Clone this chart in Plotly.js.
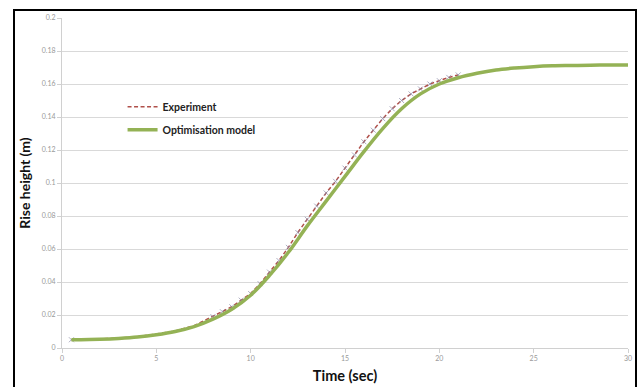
<!DOCTYPE html>
<html>
<head>
<meta charset="utf-8">
<script src="https://cdn.plot.ly/plotly-3.0.1.min.js"></script>
<style>
html,body{margin:0;padding:0;background:#fff;}
#wrap{position:relative;width:642px;height:387px;overflow:hidden;}
#chart{width:642px;height:387px;}
#frame{position:absolute;left:13px;top:9px;width:620px;height:380px;border:2px solid #000;pointer-events:none;}
</style>
</head>
<body>
<div id="wrap"><div id="chart"></div><div id="frame"></div></div>
<script>
// Experiment series (time in s, rise height in m)
const expTime = [0.5, 2, 4, 6, 7, 8, 8.5, 9, 9.5, 10, 10.5, 11, 11.5, 12, 12.5, 13, 13.5, 14, 14.5, 15, 15.5, 16, 16.5, 17, 17.5, 18, 18.5, 19, 19.5, 20, 20.5, 21];
const expHeight = [0.005, 0.0054, 0.0068, 0.0103, 0.0135, 0.019, 0.022, 0.025, 0.029, 0.033, 0.039, 0.046, 0.053, 0.061, 0.070, 0.078, 0.086, 0.094, 0.101, 0.109, 0.117, 0.125, 0.132, 0.139, 0.145, 0.150, 0.154, 0.157, 0.160, 0.162, 0.164, 0.1655];

// Optimisation model series
const modelTime = [0.5, 1, 2, 3, 4, 5, 6, 7, 8, 9, 10, 11, 12, 13, 14, 15, 16, 17, 18, 19, 20, 21, 22, 23, 24, 25, 26, 27, 28, 29, 30];
const modelHeight = [0.005, 0.005, 0.0053, 0.0058, 0.0066, 0.008, 0.010, 0.013, 0.0175, 0.0235, 0.032, 0.044, 0.058, 0.074, 0.089, 0.104, 0.119, 0.133, 0.145, 0.154, 0.160, 0.1638, 0.1665, 0.1685, 0.1697, 0.1705, 0.171, 0.1712, 0.1714, 0.1715, 0.1715];

const xTicks = [0, 5, 10, 15, 20, 25, 30];
const yTicks = [0, 0.02, 0.04, 0.06, 0.08, 0.1, 0.12, 0.14, 0.16, 0.18, 0.2];

const markerSizes = expTime.map(t => (t < 1 || t >= 7.5) ? 5 : 0);
const fam = 'Lato, "Open Sans", sans-serif';

const traces = [
  {
    x: expTime, y: expHeight, name: 'Experiment', type: 'scatter', mode: 'lines',
    legendgroup: 'a',
    line: {color: '#b0504a', width: 1.5, dash: '4px,2.5px'}
  },
  {
    x: expTime, y: expHeight, name: 'Experiment', type: 'scatter', mode: 'markers',
    legendgroup: 'a', showlegend: false,
    marker: {symbol: 'x-thin-open', size: markerSizes, color: '#8a8aa6', line: {width: 1, color: '#8a8aa6'}}
  },
  {
    x: modelTime, y: modelHeight, name: 'Optimisation model', type: 'scatter', mode: 'lines',
    legendgroup: 'b',
    line: {color: '#94b255', width: 3.5, shape: 'spline'}
  }
];

const layout = {
  width: 642, height: 387,
  margin: {l: 62, r: 14, t: 18, b: 39},
  paper_bgcolor: '#ffffff', plot_bgcolor: '#ffffff',
  font: {family: fam, color: '#888'},
  showlegend: true,
  legend: {
    x: 0.107, y: 0.775, xanchor: 'left', yanchor: 'top',
    bgcolor: 'rgba(0,0,0,0)', traceorder: 'grouped', tracegroupgap: 4,
    font: {size: 10.5, color: '#222', family: fam, weight: 'bold'}
  },
  xaxis: {
    range: [0, 30], tickvals: xTicks, ticktext: xTicks.map(String),
    showgrid: false, zeroline: false, showline: true, linecolor: '#d0d0d0', linewidth: 1,
    ticks: 'outside', ticklen: 4, tickcolor: '#d0d0d0',
    tickfont: {size: 7, color: '#999'},
    title: {text: 'Time (sec)', font: {size: 14.5, color: '#111', family: fam, weight: 'bold'}, standoff: 9}
  },
  yaxis: {
    range: [0, 0.2], tickvals: yTicks, ticktext: yTicks.map(v => String(v)),
    showgrid: true, gridcolor: '#d9d9d9', gridwidth: 1, zeroline: false,
    showline: true, linecolor: '#d0d0d0', linewidth: 1,
    ticks: 'outside', ticklen: 4, tickcolor: '#d0d0d0',
    tickfont: {size: 7, color: '#999'},
    title: {text: 'Rise height (m)', font: {size: 14, color: '#111', family: fam, weight: 'bold'}, standoff: 7}
  }
};

Plotly.newPlot('chart', traces, layout, {displayModeBar: false, staticPlot: true});
</script>
</body>
</html>
